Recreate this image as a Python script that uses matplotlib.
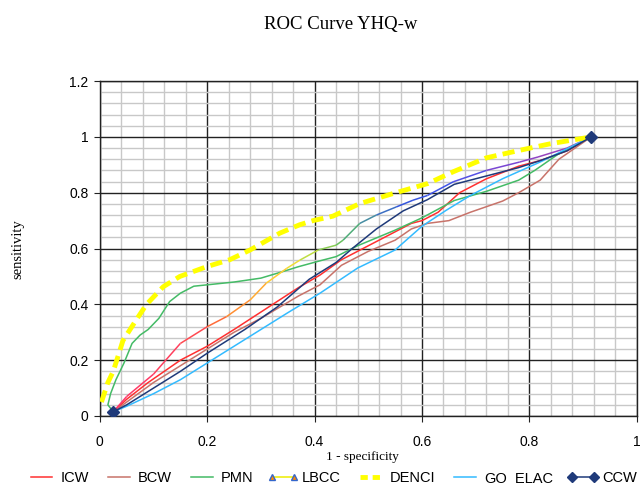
import numpy as np
import matplotlib
matplotlib.use("Agg")
import matplotlib.pyplot as plt
from matplotlib.collections import LineCollection
from matplotlib.colors import LinearSegmentedColormap
from matplotlib.lines import Line2D
from matplotlib.ticker import MultipleLocator, FuncFormatter

title = "ROC Curve YHQ-w"
xlabel = "1 - specificity"
ylabel = "sensitivity"

icw_x = [0.025, 0.05, 0.09, 0.12, 0.15, 0.2, 0.25, 0.31, 0.37, 0.41, 0.45, 0.5, 0.55, 0.58, 0.6, 0.63, 0.67, 0.72, 0.78, 0.82, 0.87, 0.915]
icw_y = [0.015, 0.06, 0.12, 0.16, 0.2, 0.25, 0.31, 0.385, 0.46, 0.505, 0.56, 0.61, 0.66, 0.69, 0.70, 0.73, 0.80, 0.85, 0.895, 0.915, 0.95, 1.0]

bcw_x = [0.025, 0.05, 0.1, 0.15, 0.2, 0.25, 0.3, 0.37, 0.41, 0.45, 0.5, 0.55, 0.58, 0.61, 0.65, 0.69, 0.75, 0.78, 0.82, 0.855, 0.915]
bcw_y = [0.015, 0.05, 0.12, 0.18, 0.24, 0.30, 0.35, 0.43, 0.47, 0.54, 0.59, 0.63, 0.67, 0.69, 0.70, 0.73, 0.77, 0.80, 0.845, 0.92, 1.0]

pmn_x = [0.025, 0.015, 0.02, 0.03, 0.045, 0.06, 0.075, 0.09, 0.11, 0.13, 0.15, 0.175, 0.21, 0.25, 0.3, 0.34, 0.37, 0.41, 0.44, 0.48, 0.55, 0.6, 0.66, 0.72, 0.78, 0.81, 0.855, 0.915]
pmn_y = [0.015, 0.04, 0.08, 0.13, 0.19, 0.26, 0.29, 0.31, 0.35, 0.41, 0.44, 0.465, 0.472, 0.48, 0.494, 0.517, 0.535, 0.556, 0.571, 0.61, 0.666, 0.71, 0.772, 0.805, 0.845, 0.88, 0.94, 1.0]

lbcc_x = [0.025, 0.05, 0.1, 0.15, 0.2, 0.236, 0.28, 0.31, 0.348, 0.373, 0.407, 0.44, 0.453, 0.484, 0.515, 0.552, 0.583, 0.61, 0.658, 0.72, 0.782, 0.816, 0.87, 0.915]
lbcc_y = [0.015, 0.07, 0.15, 0.26, 0.32, 0.356, 0.416, 0.476, 0.529, 0.559, 0.595, 0.612, 0.63, 0.69, 0.72, 0.749, 0.773, 0.79, 0.839, 0.88, 0.91, 0.928, 0.96, 1.0]

denci_x = [0.003, 0.015, 0.025, 0.043, 0.068, 0.087, 0.118, 0.149, 0.199, 0.242, 0.28, 0.335, 0.372, 0.397, 0.434, 0.484, 0.546, 0.611, 0.658, 0.72, 0.782, 0.838, 0.915]
denci_y = [0.05, 0.12, 0.16, 0.27, 0.345, 0.40, 0.463, 0.50, 0.535, 0.56, 0.595, 0.655, 0.685, 0.70, 0.716, 0.761, 0.797, 0.833, 0.875, 0.925, 0.952, 0.975, 1.0]

goelac_x = [0.025, 0.05, 0.1, 0.15, 0.2, 0.25, 0.3, 0.35, 0.41, 0.48, 0.55, 0.6, 0.645, 0.69, 0.75, 0.82, 0.915]
goelac_y = [0.015, 0.035, 0.08, 0.13, 0.19, 0.25, 0.31, 0.37, 0.44, 0.53, 0.595, 0.68, 0.737, 0.79, 0.85, 0.91, 1.0]

ccw_x = [0.025, 0.05, 0.1, 0.15, 0.2, 0.27, 0.33, 0.39, 0.44, 0.47, 0.515, 0.565, 0.61, 0.66, 0.72, 0.78, 0.82, 0.87, 0.915]
ccw_y = [0.015, 0.04, 0.10, 0.16, 0.225, 0.31, 0.39, 0.49, 0.55, 0.60, 0.67, 0.735, 0.775, 0.83, 0.86, 0.89, 0.915, 0.95, 1.0]

x_ticks = [0, 0.2, 0.4, 0.6, 0.8, 1.0]
y_ticks = [0, 0.2, 0.4, 0.6, 0.8, 1.0, 1.2]

sans = "Liberation Sans"
serif = "Liberation Serif"

fig = plt.figure(figsize=(6.4, 4.84), dpi=100)
ax = fig.add_axes([0.156, 0.1405, 0.839, 0.692])

ax.set_xlim(0, 1)
ax.set_ylim(0, 1.2)
ax.xaxis.set_minor_locator(MultipleLocator(0.04))
ax.yaxis.set_minor_locator(MultipleLocator(0.04))
ax.set_xticks(x_ticks)
ax.set_yticks(y_ticks)
fmt = FuncFormatter(lambda v, p: f"{v:g}")
ax.xaxis.set_major_formatter(fmt)
ax.yaxis.set_major_formatter(fmt)
ax.grid(which="minor", color="#c8c8c8", lw=1.0, zorder=0)
ax.grid(which="major", color="#222222", lw=1.0, zorder=0.5)
ax.set_axisbelow(True)
ax.tick_params(which="minor", length=0)
ax.tick_params(which="major", direction="out", length=4, color="#222222", labelsize=10)
ax.tick_params(axis="x", pad=10)
ax.tick_params(axis="y", pad=4)
for lab in ax.get_xticklabels() + ax.get_yticklabels():
    lab.set_family(sans)
for s in ax.spines.values():
    s.set_color("#222222")
    s.set_linewidth(1.0)

lw = 1.1
ax.plot(icw_x, icw_y, color="#ff3030", lw=lw, zorder=3)
ax.plot(bcw_x, bcw_y, color="#c8736a", lw=lw, zorder=3)
ax.plot(pmn_x, pmn_y, color="#44bb66", lw=lw, zorder=3)

cmap = LinearSegmentedColormap.from_list("rainbow_lbcc", [
    (0.0, "#ff3377"), (0.18, "#ff4455"), (0.25, "#ff7733"), (0.32, "#ffaa33"),
    (0.38, "#ffdd33"), (0.43, "#bbdd44"), (0.5, "#55bb66"), (0.55, "#4488aa"),
    (0.62, "#3355dd"), (0.72, "#4455ee"), (0.85, "#8844cc"), (1.0, "#aa44aa")])
pts = np.column_stack([lbcc_x, lbcc_y])
segs = np.stack([pts[:-1], pts[1:]], axis=1)
mid = (np.array(lbcc_x[:-1]) + np.array(lbcc_x[1:])) / 2
lc = LineCollection(segs, colors=cmap(mid / max(lbcc_x)), linewidths=lw, zorder=3)
ax.add_collection(lc)

ax.plot(denci_x, denci_y, color="#ffff00", lw=3.5, ls=(0, (2.5, 1.3)), zorder=4)
ax.plot(goelac_x, goelac_y, color="#33bbff", lw=lw, zorder=3)
ax.plot(ccw_x, ccw_y, color="#1f3a7a", lw=lw, marker="D", markersize=6,
        markevery=[0, len(ccw_x) - 1], zorder=5)

fig.text(0.533, 1 - 25 / 484, title, ha="center", va="center", family=serif, fontsize=13.5)
fig.text(0.566, 1 - 457 / 484, xlabel, ha="center", va="center", family=serif, fontsize=9.5)
fig.text(0.028, 1 - 249 / 484, ylabel, ha="center", va="center", rotation=90, family=serif, fontsize=10.5)

handles = [
    Line2D([], [], color="#ff3030", lw=lw),
    Line2D([], [], color="#c8736a", lw=lw),
    Line2D([], [], color="#44bb66", lw=lw),
    Line2D([], [], color="#eeee00", lw=lw, marker="^", markersize=5, markerfacecolor="#ff8800", markeredgecolor="#3366cc"),
    Line2D([], [], color="#ffff00", lw=3.5, ls=(0, (1.5, 1.0))),
    Line2D([], [], color="#33bbff", lw=lw),
    Line2D([], [], color="#1f3a7a", lw=lw, marker="D", markersize=5),
]
labels = ["ICW", "BCW", "PMN", "LBCC", "DENCI", "GO_ELAC", "CCW"]
leg = fig.legend(handles, labels, loc="center", bbox_to_anchor=(0.518, 1 - 478 / 484), ncol=7,
                 frameon=False, handlelength=2.1, handletextpad=0.25, columnspacing=1.0,
                 numpoints=2, borderaxespad=0, borderpad=0,
                 prop={"family": sans, "size": 10.5})

fig.savefig("out.png", dpi=100)
